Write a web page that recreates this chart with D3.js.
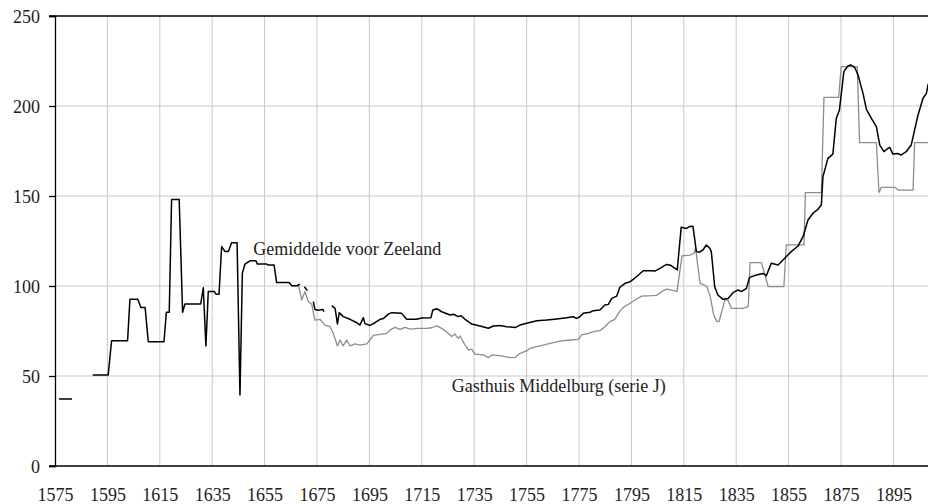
<!DOCTYPE html>
<html lang="nl">
<head>
  <meta charset="UTF-8">
  <title>Gemiddelde voor Zeeland</title>
  <script src="https://d3js.org/d3.v7.min.js"></script>
  <style>
    body {
      margin: 0;
      background: #fff;
      font-family: "Liberation Serif", "Times New Roman", serif;
    }
    .grid line {
      stroke: #c8c8c8;
      stroke-width: 1;
    }
    .tick-label {
      font-family: "Liberation Serif", "Times New Roman", serif;
      font-size: 18px;
      fill: #222;
    }
    .series-label {
      font-family: "Liberation Serif", "Times New Roman", serif;
      font-size: 18px;
      fill: #222;
    }
  </style>
</head>
<body>
  <div id="chart"></div>
  <script>
    // year ticks and value ticks
    const yearTicks = [1575, 1595, 1615, 1635, 1655, 1675, 1695, 1715, 1735, 1755, 1775, 1795, 1815, 1835, 1855, 1875, 1895];
    const valueTicks = [0, 50, 100, 150, 200, 250];

    // Gemiddelde voor Zeeland (null = break in the line)
    const zeelandYears = [
      1576.5, 1581.5, 1585,
      1589.4, 1595.3, 1596.6, 1602.7, 1603.6, 1606.6, 1607.8, 1609.4, 1610.6, 1616.6,
      1617.5, 1618.6, 1619.5, 1622.4, 1623.7, 1624.6, 1630.6, 1631.6, 1632.6, 1633.5,
      1635.8, 1636.5, 1637.6, 1638.6, 1639.9, 1641.2, 1642.4, 1644.5, 1645.6, 1646.5,
      1647.5, 1649.4, 1651.7, 1652.2, 1655.8, 1656.2, 1658.6, 1659.6, 1664.4, 1665.3,
      1667.5, 1668.5, 1669.3,
      1670.2, 1671.3, 1672.4,
      1673.6, 1674.2, 1675.5, 1677.2, 1677.7, 1679,
      1680.6, 1681.9, 1682.8, 1683.5, 1685, 1687.6, 1690.2, 1691.4, 1692.7, 1693.3,
      1695.2, 1697.1, 1699.1, 1700.4, 1702.2, 1703.5, 1707.3, 1709.2, 1713, 1715,
      1718.5, 1719.2, 1720.7, 1722.6, 1725.8, 1727, 1728.9, 1730, 1731.5, 1734,
      1737.2, 1740.4, 1742.3, 1744.8, 1747.4, 1750.6, 1752.5, 1755, 1758.9, 1762.7,
      1766.5, 1770.3, 1772.8, 1774.1, 1775.3, 1776.6, 1779.2, 1780.5, 1783, 1784.9,
      1786.2, 1787.5, 1789.4, 1790.6, 1792.6, 1794.5, 1795.7, 1797.7, 1799.5, 1802.7,
      1804, 1805.9, 1808.4, 1810, 1812.5, 1814, 1816, 1817.2, 1818.5, 1819.8,
      1821, 1822.3, 1823.6, 1824.9, 1825.5, 1826.8, 1828, 1830, 1831.9, 1833.8,
      1835.7, 1837, 1838.9, 1840.1, 1842.7, 1845.2, 1846.5, 1848.4, 1851, 1853.5,
      1856, 1858.6, 1860.5, 1862.4, 1864.3, 1866.2, 1867.5, 1868.1, 1870, 1871.9,
      1873.2, 1874.4, 1876.1, 1877.6, 1878.7, 1880.2, 1881.5, 1883.4, 1884.7, 1886.6,
      1888.5, 1889.8, 1891.4, 1892.5, 1893.6, 1894.8, 1896.5, 1898, 1899.9, 1901.8,
      1903.1, 1904.4, 1906.3, 1907.6, 1908.2, 1909.5
    ];
    const zeelandValues = [
      37.2, 37.2, null,
      50.6, 50.6, 69.6, 69.6, 92.6, 92.6, 88, 88, 69, 69,
      85.4, 85.4, 148.1, 148.1, 85.4, 90, 90, 99, 66.7, 96.9,
      96.9, 95.4, 95.4, 121.9, 119.1, 119.1, 124, 124, 39.4, 107,
      112.2, 114, 114, 112.2, 112.2, 111.7, 111.7, 101.9, 101.9, 100.2,
      100.2, 101, null,
      99.6, 97.4, null,
      91.3, 87, 86.5, 87, 85.7, null,
      89.1, 87.6, 78.9, 85.2, 83, 81.5, 79.6, 78.3, 82.4, 79.1,
      78.1, 79.6, 81.5, 82, 84.4, 85.2, 84.8, 81.5, 81.5, 82.2,
      82.4, 86.7, 87.4, 85.7, 83.9, 84.3, 83, 83.5, 81.5, 78.9,
      77.8, 76.5, 77.8, 78, 77.4, 76.9, 78.3, 79.3, 80.7, 81.1,
      81.7, 82.4, 82.9, 82, 82.9, 84.8, 85.4, 86.3, 86.7, 89.4,
      89.8, 93.1, 94.4, 99.3, 101.5, 102.4, 103.7, 106.1, 108.5, 108.5,
      108.3, 109.8, 112, 111.5, 108.9, 132.6, 132, 133, 133.2, 119.1,
      118.8, 120, 122.8, 121, 119.1, 99.6, 95, 92.6, 93.1, 96.3,
      97.8, 96.9, 98.7, 104.8, 106.1, 107, 105.7, 112.6, 111.7, 115.4,
      119.1, 122.2, 127.4, 136.7, 140.4, 142.6, 145, 160.7, 170.9, 173.3,
      193.1, 197.8, 219.1, 222.2, 222.8, 221.5, 217.2, 207, 198.1, 193.1,
      188.5, 178.3, 174.6, 176, 177, 173.3, 173.6, 172.8, 174.6, 178.3,
      186.7, 195, 204.3, 207, 211.7, 216
    ];

    // Gasthuis Middelburg (serie J)
    const gasthuisYears = [
      1665.3, 1667.5, 1667.9, 1669.2, 1670.4, 1671.7, 1673, 1674.2, 1676.1, 1678,
      1680, 1681.2, 1682.8, 1683.8, 1685, 1686.3, 1687.6, 1689.5, 1691.4, 1694,
      1695.2, 1696.5, 1699.7, 1701.6, 1702.9, 1704.8, 1706.7, 1708.6, 1710.5, 1713.7,
      1716.9, 1718.8, 1720.7, 1722.6, 1725.1, 1726.4, 1727.6, 1728.9, 1729.6, 1731.5,
      1732.8, 1734, 1735.3, 1738.5, 1740.4, 1741.7, 1744.8, 1748.7, 1750.6, 1752.5,
      1755, 1756.3, 1758.9, 1761.4, 1764, 1767.7, 1771.6, 1774.8, 1776, 1778.6,
      1780.5, 1783, 1784.9, 1786.8, 1788.7, 1790, 1791.9, 1794.5, 1797, 1798.9,
      1802.7, 1804.6, 1807.1, 1808.4, 1810, 1812.4, 1814.3, 1817.5, 1818.9, 1819.5,
      1821.2, 1823.7, 1825.1, 1826.4, 1827.7, 1828.5, 1829.9, 1830.7, 1831.8, 1833.2,
      1837.7, 1839.6, 1840.3, 1844.6, 1846, 1847.2, 1853.2, 1854.1, 1860.9, 1861.4,
      1867.5, 1868.5, 1874.1, 1875.1, 1881.2, 1882.1, 1888.5, 1889.5, 1890.4, 1895.5,
      1896.8, 1902.5, 1903.1, 1910
    ];
    const gasthuisValues = [
      100.2, 100.2, 100.6, 92.2, 96.9, 91.3, 89.8, 81.1, 81.5, 78.3,
      77.4, 73.7, 66.7, 70, 66.7, 70, 66.7, 67.8, 67.2, 67.8,
      70, 72.6, 73.3, 73.7, 75.6, 77, 75.9, 77, 76, 76.5,
      76.5, 76.8, 77.8, 76.5, 73.7, 71.9, 73.3, 70.9, 72.2, 67.2,
      64.4, 64.9, 62.2, 61.7, 60.2, 61.7, 61.3, 60.2, 60.4, 62.6,
      63.9, 65.4, 66.3, 67.2, 68.1, 69.4, 70, 70.4, 72.8, 73.7,
      74.6, 75.2, 77.4, 80.2, 81.5, 84.8, 88.1, 90.4, 92.8, 94.4,
      94.6, 94.8, 97.4, 98.3, 97.8, 96.9, 116.7, 117.2, 118.2, 121,
      101.5, 100, 94.1, 83.9, 80.2, 80.4, 88, 92.6, 92.2, 87.6,
      87.6, 88.5, 113, 113, 106.1, 99.6, 99.6, 122.8, 122.8, 151.9,
      151.9, 204.8, 204.8, 221.9, 221.9, 179.6, 179.6, 151.9, 154.8, 154.8,
      153.3, 153.3, 179.6, 179.6
    ];

    const svgWidth = 928;
    const svgHeight = 504;
    const margin = { top: 16, left: 55, bottom: 38 };
    const height = svgHeight - margin.top - margin.bottom;

    const x = d3.scaleLinear()
      .domain([1575, 1910])
      .range([margin.left, margin.left + 335 * 2.62]);

    const y = d3.scaleLinear()
      .domain([0, 250])
      .range([margin.top + height, margin.top]);

    const svg = d3.select("#chart").append("svg")
      .attr("width", svgWidth)
      .attr("height", svgHeight);

    // vertical grid lines
    svg.append("g")
      .attr("class", "grid")
      .selectAll("line")
      .data(yearTicks.slice(1))
      .join("line")
      .attr("x1", d => x(d)).attr("x2", d => x(d))
      .attr("y1", y(250)).attr("y2", y(0));

    // horizontal grid lines
    svg.append("g")
      .attr("class", "grid")
      .selectAll("line")
      .data(valueTicks.filter(v => v > 0 && v < 250))
      .join("line")
      .attr("x1", x(1575)).attr("x2", svgWidth)
      .attr("y1", d => y(d)).attr("y2", d => y(d));

    // axes frame
    svg.append("line")
      .attr("x1", x(1575) - 6).attr("x2", svgWidth)
      .attr("y1", y(250)).attr("y2", y(250))
      .attr("stroke", "#000").attr("stroke-width", 1.3);
    svg.append("line")
      .attr("x1", x(1575) - 6).attr("x2", svgWidth)
      .attr("y1", y(0)).attr("y2", y(0))
      .attr("stroke", "#000").attr("stroke-width", 1.3);

    const yAxis = svg.append("g")
      .attr("transform", `translate(${x(1575)},0)`)
      .call(d3.axisLeft(y).tickValues(valueTicks).tickSize(6).tickPadding(9))
      .attr("font-family", null).attr("font-size", null);
    yAxis.select(".domain").attr("stroke", "#000").attr("stroke-width", 1.3);
    yAxis.selectAll(".tick line").attr("stroke", "#000").attr("stroke-width", 1.3);
    yAxis.selectAll(".tick text")
      .attr("class", "tick-label")
      .attr("dy", "0.36em");

    const xAxis = svg.append("g")
      .attr("transform", `translate(0,${y(0)})`)
      .call(d3.axisBottom(x).tickValues(yearTicks).tickFormat(d3.format("d")).tickSize(0).tickPadding(22))
      .attr("font-family", null).attr("font-size", null);
    xAxis.select(".domain").remove();
    xAxis.selectAll(".tick text")
      .attr("class", "tick-label");

    const line = d3.line()
      .defined(d => d[1] !== null)
      .x(d => x(d[0]))
      .y(d => y(d[1]));

    const gasthuis = gasthuisYears.map((yr, i) => [yr, gasthuisValues[i]]);
    const zeeland = zeelandYears.map((yr, i) => [yr, zeelandValues[i]]);

    svg.append("path")
      .datum(gasthuis)
      .attr("fill", "none")
      .attr("stroke", "#8c8c8c")
      .attr("stroke-width", 1.3)
      .attr("stroke-linejoin", "round")
      .attr("d", line);

    svg.append("path")
      .datum(zeeland)
      .attr("fill", "none")
      .attr("stroke", "#000")
      .attr("stroke-width", 1.5)
      .attr("stroke-linejoin", "round")
      .attr("d", line);

    // series labels
    svg.append("text")
      .attr("class", "series-label")
      .attr("x", x(1650.7))
      .attr("y", y(117.5))
      .text("Gemiddelde voor Zeeland");

    svg.append("text")
      .attr("class", "series-label")
      .attr("x", x(1726.4))
      .attr("y", y(41))
      .text("Gasthuis Middelburg (serie J)");
  </script>
</body>
</html>
